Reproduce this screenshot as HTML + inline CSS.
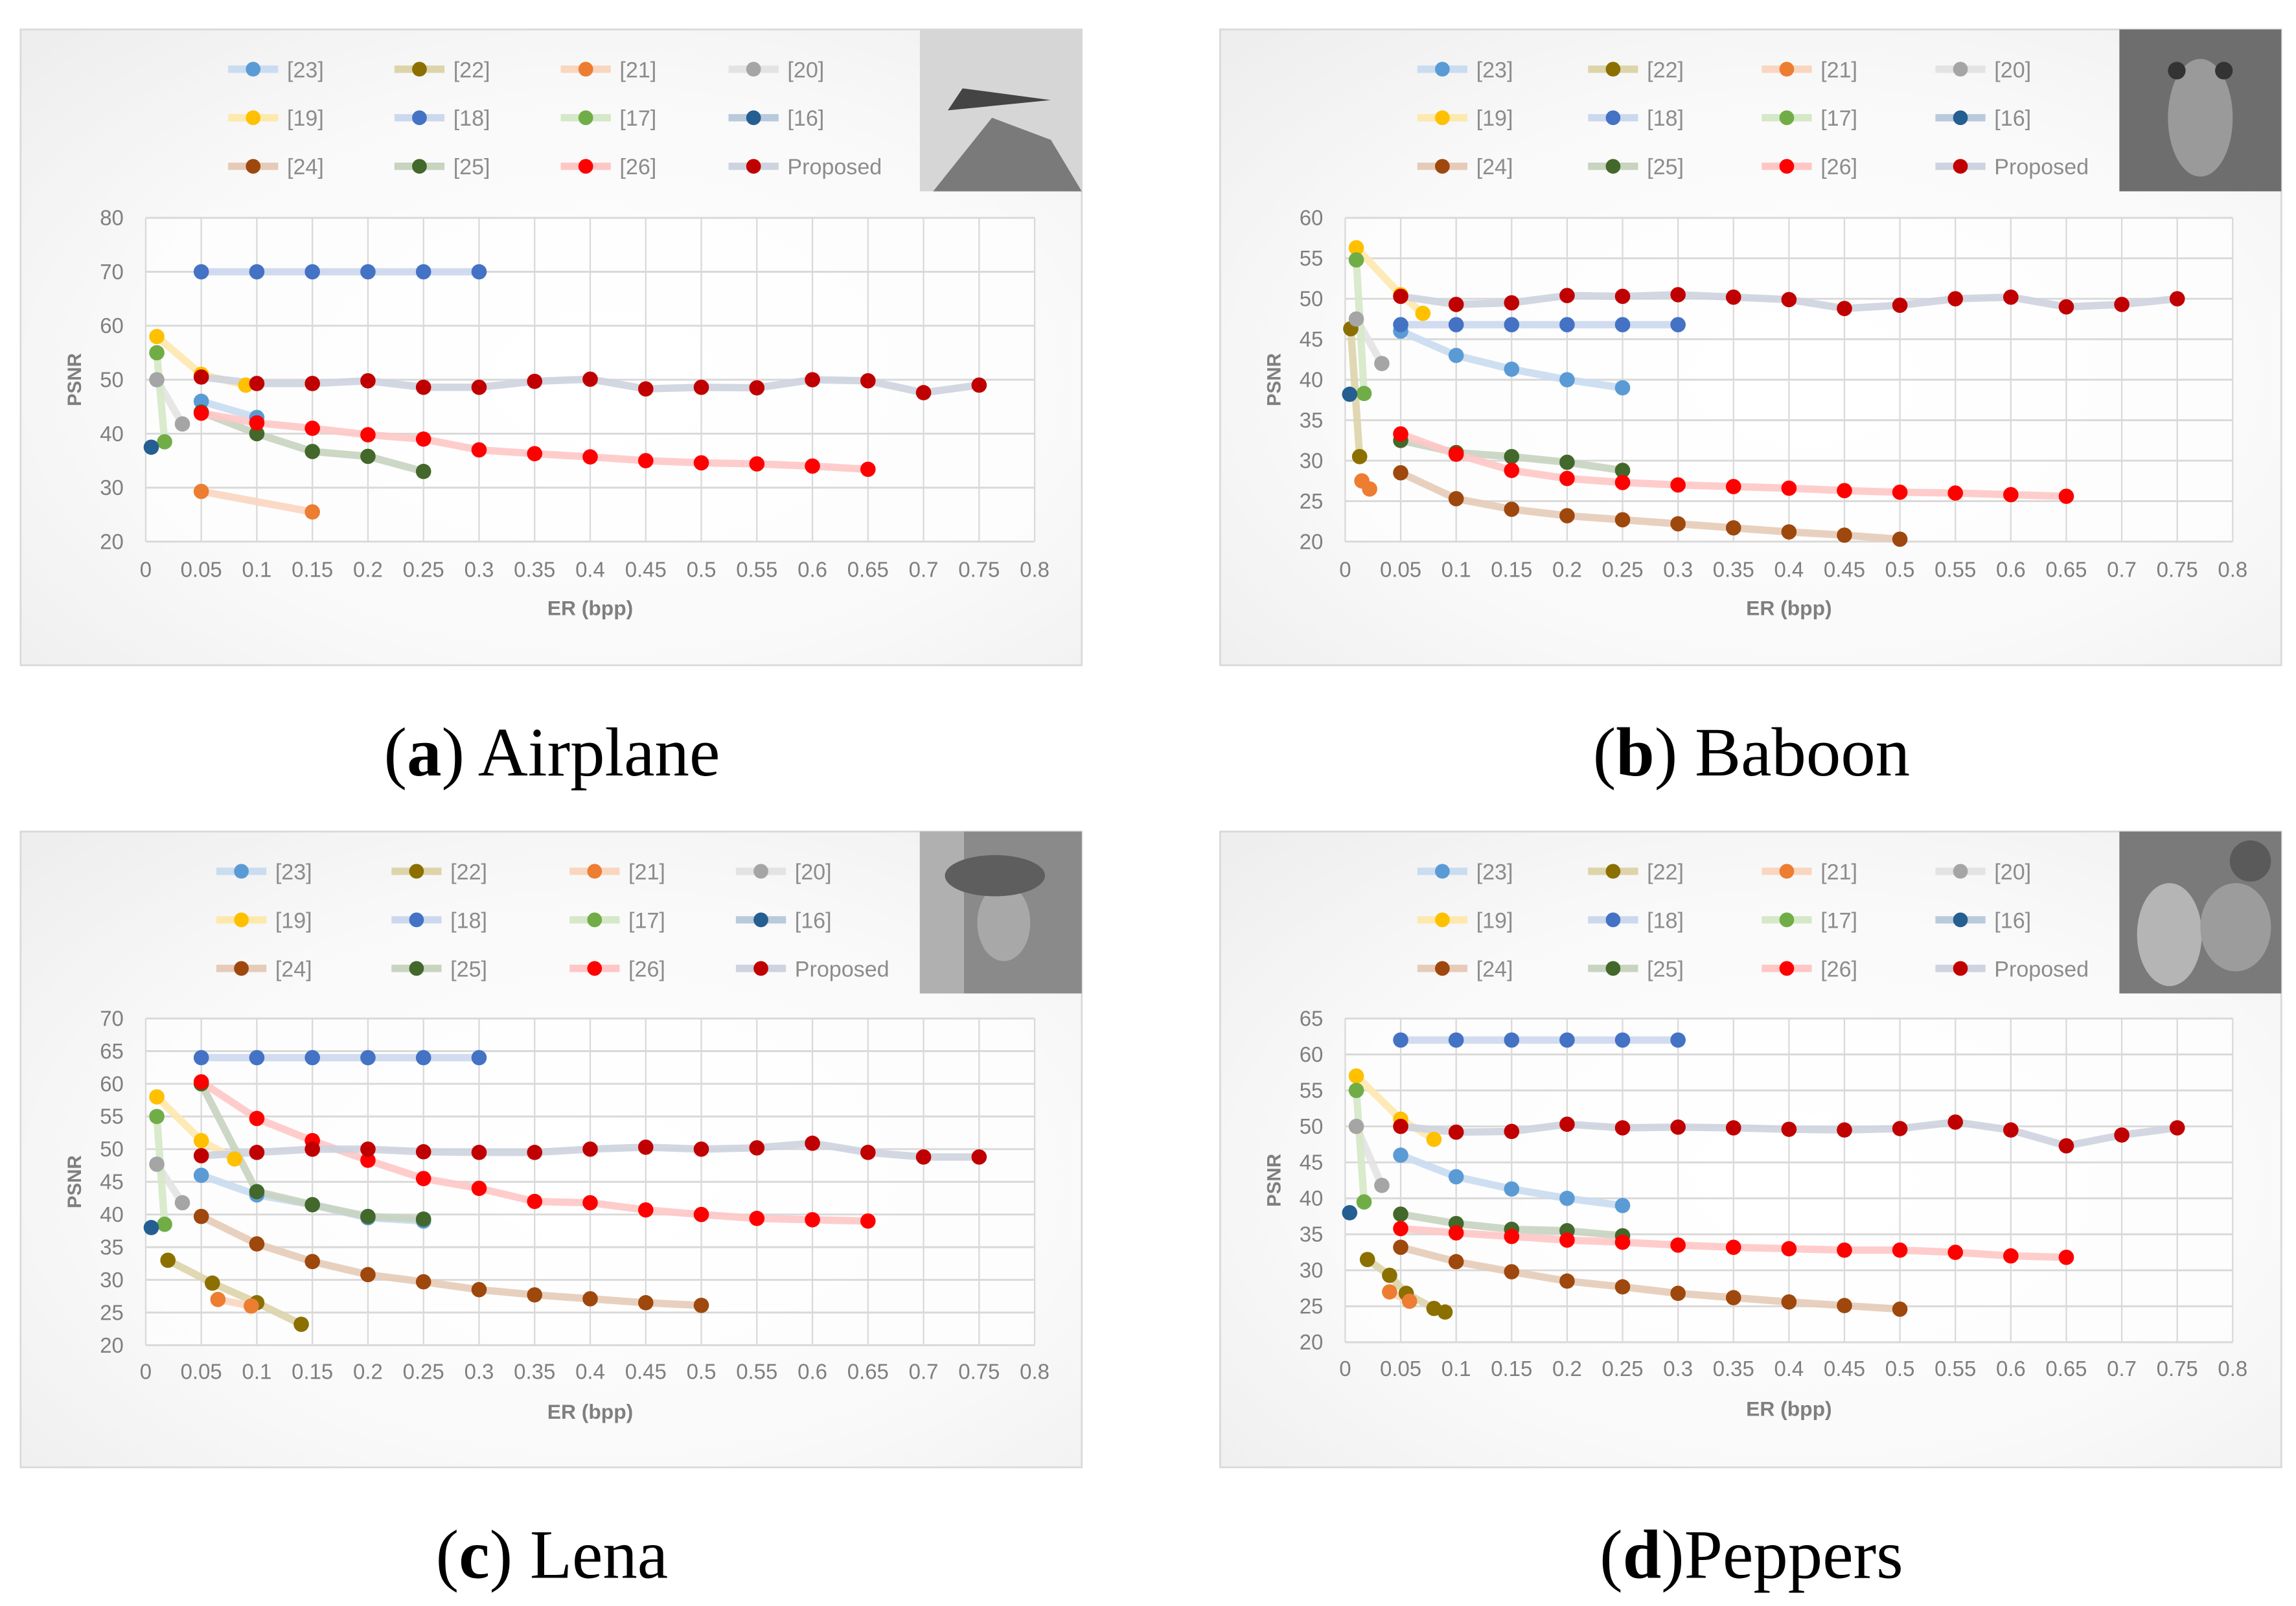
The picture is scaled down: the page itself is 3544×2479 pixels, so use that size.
<!DOCTYPE html>
<html><head><meta charset="utf-8"><style>
html,body{margin:0;padding:0;background:#fff;}
svg{display:block;}
</style></head><body>
<svg id="fig" xmlns="http://www.w3.org/2000/svg" width="3544" height="2479" viewBox="0 0 1560 1091.2"></svg>
<script>
const seriesNames = ['[23]','[22]','[21]','[20]','[19]','[18]','[17]','[16]','[24]','[25]','[26]','Proposed'];
const dotColors = ['#5B9BD5','#8B7000','#ED7D31','#A5A5A5','#FFC000','#4472C4','#70AD47','#255E91','#9E480E','#43682B','#FF0000','#C00000'];
const lineColors = ['#c9dcf0','#ddd4aa','#f9d6c0','#e3e3e3','#fde8ae','#ccd8ee','#d5e8c8','#b8cadc','#e6cbb8','#c8d3c0','#ffc6c6','#cdd3df'];

// (a) Airplane
const a23=[[0.05,46],[0.1,43]];
const a22=[];
const a21=[[0.05,29.3],[0.15,25.5]];
const a20=[[0.01,50],[0.033,41.8]];
const a19=[[0.01,58],[0.05,51],[0.09,49]];
const a18=[[0.05,70],[0.1,70],[0.15,70],[0.2,70],[0.25,70],[0.3,70]];
const a17=[[0.01,55],[0.017,38.5]];
const a16=[[0.005,37.5]];
const a24=[];
const a25=[[0.05,44],[0.1,40],[0.15,36.7],[0.2,35.8],[0.25,33]];
const a26=[[0.05,43.8],[0.1,42],[0.15,41],[0.2,39.8],[0.25,39],[0.3,37],[0.35,36.3],[0.4,35.7],[0.45,35],[0.5,34.6],[0.55,34.4],[0.6,34],[0.65,33.4]];
const aP=[[0.05,50.5],[0.1,49.3],[0.15,49.3],[0.2,49.8],[0.25,48.6],[0.3,48.6],[0.35,49.7],[0.4,50.1],[0.45,48.3],[0.5,48.6],[0.55,48.5],[0.6,50],[0.65,49.8],[0.7,47.6],[0.75,49]];
// (b) Baboon
const b23=[[0.05,46],[0.1,43],[0.15,41.3],[0.2,40],[0.25,39]];
const b22=[[0.005,46.3],[0.013,30.5]];
const b21=[[0.015,27.5],[0.022,26.5]];
const b20=[[0.01,47.5],[0.033,42]];
const b19=[[0.01,56.3],[0.05,50.5],[0.07,48.2]];
const b18=[[0.05,46.8],[0.1,46.8],[0.15,46.8],[0.2,46.8],[0.25,46.8],[0.3,46.8]];
const b17=[[0.01,54.8],[0.017,38.3]];
const b16=[[0.004,38.2]];
const b24=[[0.05,28.5],[0.1,25.3],[0.15,24],[0.2,23.2],[0.25,22.7],[0.3,22.2],[0.35,21.7],[0.4,21.2],[0.45,20.8],[0.5,20.3]];
const b25=[[0.05,32.5],[0.1,31],[0.15,30.5],[0.2,29.8],[0.25,28.8]];
const b26=[[0.05,33.3],[0.1,30.8],[0.15,28.8],[0.2,27.8],[0.25,27.3],[0.3,27],[0.35,26.8],[0.4,26.6],[0.45,26.3],[0.5,26.1],[0.55,26],[0.6,25.8],[0.65,25.6]];
const bP=[[0.05,50.3],[0.1,49.3],[0.15,49.5],[0.2,50.4],[0.25,50.3],[0.3,50.5],[0.35,50.2],[0.4,49.9],[0.45,48.8],[0.5,49.2],[0.55,50],[0.6,50.2],[0.65,49],[0.7,49.3],[0.75,50]];
// (c) Lena
const c23=[[0.05,46],[0.1,43],[0.15,41.5],[0.2,39.5],[0.25,39]];
const c22=[[0.02,33],[0.06,29.5],[0.1,26.5],[0.14,23.2]];
const c21=[[0.065,27],[0.095,26]];
const c20=[[0.01,47.7],[0.033,41.8]];
const c19=[[0.01,58],[0.05,51.3],[0.08,48.5]];
const c18=[[0.05,64],[0.1,64],[0.15,64],[0.2,64],[0.25,64],[0.3,64]];
const c17=[[0.01,55],[0.017,38.5]];
const c16=[[0.005,38]];
const c24=[[0.05,39.7],[0.1,35.5],[0.15,32.8],[0.2,30.8],[0.25,29.7],[0.3,28.5],[0.35,27.7],[0.4,27.1],[0.45,26.5],[0.5,26.1]];
const c25=[[0.05,60],[0.1,43.5],[0.15,41.5],[0.2,39.7],[0.25,39.3]];
const c26=[[0.05,60.3],[0.1,54.7],[0.15,51.3],[0.2,48.3],[0.25,45.5],[0.3,44],[0.35,42],[0.4,41.8],[0.45,40.7],[0.5,40],[0.55,39.4],[0.6,39.2],[0.65,39]];
const cP=[[0.05,49],[0.1,49.5],[0.15,50],[0.2,50],[0.25,49.6],[0.3,49.5],[0.35,49.5],[0.4,50],[0.45,50.3],[0.5,50],[0.55,50.2],[0.6,50.9],[0.65,49.5],[0.7,48.8],[0.75,48.8]];
// (d) Peppers
const d23=[[0.05,46],[0.1,43],[0.15,41.3],[0.2,40],[0.25,39]];
const d22=[[0.02,31.5],[0.04,29.3],[0.055,26.8],[0.08,24.7],[0.09,24.2]];
const d21=[[0.04,27],[0.058,25.7]];
const d20=[[0.01,50],[0.033,41.8]];
const d19=[[0.01,57],[0.05,51],[0.08,48.2]];
const d18=[[0.05,62],[0.1,62],[0.15,62],[0.2,62],[0.25,62],[0.3,62]];
const d17=[[0.01,55],[0.017,39.5]];
const d16=[[0.004,38]];
const d24=[[0.05,33.2],[0.1,31.2],[0.15,29.8],[0.2,28.5],[0.25,27.7],[0.3,26.8],[0.35,26.2],[0.4,25.6],[0.45,25.1],[0.5,24.6]];
const d25=[[0.05,37.8],[0.1,36.5],[0.15,35.7],[0.2,35.5],[0.25,34.8]];
const d26=[[0.05,35.8],[0.1,35.2],[0.15,34.7],[0.2,34.2],[0.25,33.9],[0.3,33.5],[0.35,33.2],[0.4,33],[0.45,32.8],[0.5,32.8],[0.55,32.5],[0.6,32],[0.65,31.8]];
const dP=[[0.05,50],[0.1,49.2],[0.15,49.3],[0.2,50.3],[0.25,49.8],[0.3,49.9],[0.35,49.8],[0.4,49.6],[0.45,49.5],[0.5,49.7],[0.55,50.6],[0.6,49.5],[0.65,47.3],[0.7,48.8],[0.75,49.8]];

const xTicks = [0,0.05,0.1,0.15,0.2,0.25,0.3,0.35,0.4,0.45,0.5,0.55,0.6,0.65,0.7,0.75,0.8];
const yTicksA = [20,30,40,50,60,70,80];
const yTicksB = [20,25,30,35,40,45,50,55,60];
const yTicksC = [20,25,30,35,40,45,50,55,60,65,70];
const yTicksD = [20,25,30,35,40,45,50,55,60,65];
const captionLetters = ['a','b','c','d'];
const captionTitles = [' Airplane',' Baboon',' Lena','Peppers'];

const NS='http://www.w3.org/2000/svg';
const svg=document.getElementById('fig');
function mk(tag,attrs,parent){const e=document.createElementNS(NS,tag);for(const k in attrs)e.setAttribute(k,attrs[k]);(parent||svg).appendChild(e);return e;}

const defs=mk('defs',{});
const gr=mk('radialGradient',{id:'bg',cx:'0.55',cy:'0.55',r:'0.75'},defs);
mk('stop',{offset:'0','stop-color':'#ffffff'},gr);
mk('stop',{offset:'0.6','stop-color':'#f9f9f9'},gr);
mk('stop',{offset:'1','stop-color':'#eeeeee'},gr);

const panels=[
 {fx:14,fy:20,px0:99,px1:703,py0:368,py1:148,ymin:20,ymax:80,yt:yTicksA,data:[a23,a22,a21,a20,a19,a18,a17,a16,a24,a25,a26,aP],leg:[172,285,398,512],img:'airplane',cap:375,capY:513,xl:392,er:418},
 {fx:829,fy:20,px0:914,px1:1517,py0:368,py1:148,ymin:20,ymax:60,yt:yTicksB,data:[b23,b22,b21,b20,b19,b18,b17,b16,b24,b25,b26,bP],leg:[980,1096,1214,1332],img:'baboon',cap:1190,capY:513,xl:392,er:418},
 {fx:14,fy:565,px0:99,px1:703,py0:914,py1:692,ymin:20,ymax:70,yt:yTicksC,data:[c23,c22,c21,c20,c19,c18,c17,c16,c24,c25,c26,cP],leg:[164,283,404,517],img:'lena',cap:375,capY:1058,xl:937,er:964},
 {fx:829,fy:565,px0:914,px1:1517,py0:912,py1:692,ymin:20,ymax:65,yt:yTicksD,data:[d23,d22,d21,d20,d19,d18,d17,d16,d24,d25,d26,dP],leg:[980,1096,1214,1332],img:'peppers',cap:1190,capY:1058,xl:935,er:962}
];
const thumbFill={airplane:'#d6d6d6',baboon:'#6e6e6e',lena:'#8a8a8a',peppers:'#7a7a7a'};

panels.forEach((p,pi)=>{
  const g=mk('g',{});
  
  
  const fr=mk('rect',{x:p.fx,y:p.fy,width:721,height:432,fill:'url(#bg)',stroke:'#d9d9d9','stroke-width':1.2},g);
  
  
  const X=v=>p.px0+(v/0.8)*(p.px1-p.px0);
  const Y=v=>p.py0-(v-p.ymin)/(p.ymax-p.ymin)*(p.py0-p.py1);
  mk('rect',{x:p.px0,y:p.py1,width:p.px1-p.px0,height:p.py0-p.py1,fill:'#ffffff','fill-opacity':0.6},g);
  xTicks.forEach(t=>{const l=mk('line',{x1:X(t),x2:X(t),y1:p.py1,y2:p.py0,stroke:'#d9d9d9','stroke-width':1},g);
    
    const tx=mk('text',{x:X(t),y:p.xl,'text-anchor':'middle','font-size':14.5,fill:'#7f7f7f','font-family':'Liberation Sans, sans-serif'},g);
    tx.textContent=String(t);});
  p.yt.forEach(t=>{const l=mk('line',{x1:p.px0,x2:p.px1,y1:Y(t),y2:Y(t),stroke:'#d9d9d9','stroke-width':1.3},g);
    
    const tx=mk('text',{x:p.px0-15,y:Y(t)+5,'text-anchor':'end','font-size':14.5,fill:'#7f7f7f','font-family':'Liberation Sans, sans-serif'},g);
    tx.textContent=String(t);});
  const yt=mk('text',{x:0,y:0,transform:`translate(${p.fx+41},${(p.py0+p.py1)/2}) rotate(-90)`,'text-anchor':'middle','font-size':13,'font-weight':'bold',fill:'#7f7f7f','font-family':'Liberation Sans, sans-serif'},g);
  yt.textContent='PSNR';
  const xt=mk('text',{x:(p.px0+p.px1)/2,y:p.er,'text-anchor':'middle','font-size':14,'font-weight':'bold',fill:'#7f7f7f','font-family':'Liberation Sans, sans-serif'},g);
  xt.textContent='ER (bpp)';
  p.data.forEach((s,si)=>{
    if(s.length>1){
      const pl=mk('polyline',{points:s.map(d=>X(d[0])+','+Y(d[1])).join(' '),fill:'none',stroke:lineColors[si],'stroke-width':5,'stroke-linejoin':'round','stroke-linecap':'round','stroke-opacity':0.9},g);
      
      
    }
  });
  p.data.forEach((s,si)=>{
    s.forEach(d=>{
      const c=mk('circle',{cx:X(d[0]),cy:Y(d[1]),r:5.2,fill:dotColors[si]},g);
      
      
    });
  });
  const rows=[p.fy+27,p.fy+60,p.fy+93];
  seriesNames.forEach((n,si)=>{
    const cx=p.leg[si%4], cy=rows[Math.floor(si/4)];
    const lg=mk('g',{},g);
    
    
    mk('line',{x1:cx-17,x2:cx+17,y1:cy,y2:cy,stroke:lineColors[si],'stroke-width':5},lg);
    mk('circle',{cx:cx,cy:cy,r:5,fill:dotColors[si]},lg);
    const t=mk('text',{x:cx+23,y:cy+5.5,'font-size':15,fill:'#8c8c8c','font-family':'Liberation Sans, sans-serif'},lg);
    t.textContent=n;
  });
  const th=mk('g',{},g);
  
  
  mk('rect',{x:p.fx+611,y:p.fy,width:110,height:110,fill:thumbFill[p.img]},th);
  if(p.img==='airplane'){
    mk('polygon',{points:`${p.fx+620},${p.fy+110} ${p.fx+660},${p.fy+60} ${p.fx+700},${p.fy+75} ${p.fx+721},${p.fy+110}`,fill:'#7a7a7a'},th);
    mk('polygon',{points:`${p.fx+630},${p.fy+55} ${p.fx+700},${p.fy+48} ${p.fx+640},${p.fy+40}`,fill:'#444'},th);
  } else if(p.img==='baboon'){
    mk('ellipse',{cx:p.fx+666,cy:p.fy+60,rx:22,ry:40,fill:'#9a9a9a'},th);
    mk('circle',{cx:p.fx+650,cy:p.fy+28,r:6,fill:'#333'},th);
    mk('circle',{cx:p.fx+682,cy:p.fy+28,r:6,fill:'#333'},th);
  } else if(p.img==='lena'){
    mk('rect',{x:p.fx+611,y:p.fy,width:30,height:110,fill:'#b0b0b0'},th);
    mk('ellipse',{cx:p.fx+668,cy:p.fy+62,rx:18,ry:26,fill:'#a8a8a8'},th);
    mk('ellipse',{cx:p.fx+662,cy:p.fy+30,rx:34,ry:14,fill:'#5e5e5e'},th);
  } else {
    mk('ellipse',{cx:p.fx+645,cy:p.fy+70,rx:22,ry:35,fill:'#b5b5b5'},th);
    mk('ellipse',{cx:p.fx+690,cy:p.fy+65,rx:24,ry:30,fill:'#9c9c9c'},th);
    mk('circle',{cx:p.fx+700,cy:p.fy+20,r:14,fill:'#5a5a5a'},th);
  }
  const cap=mk('text',{x:p.cap,y:p.capY+14,'text-anchor':'middle','font-size':47,fill:'#000','font-family':'Liberation Serif, serif'});
  
  
  const t1=mk('tspan',{},cap);t1.textContent='(';
  const t2=mk('tspan',{'font-weight':'bold'},cap);t2.textContent=captionLetters[pi];
  const t3=mk('tspan',{},cap);t3.textContent=')'+captionTitles[pi];
});
</script>
</body></html>
